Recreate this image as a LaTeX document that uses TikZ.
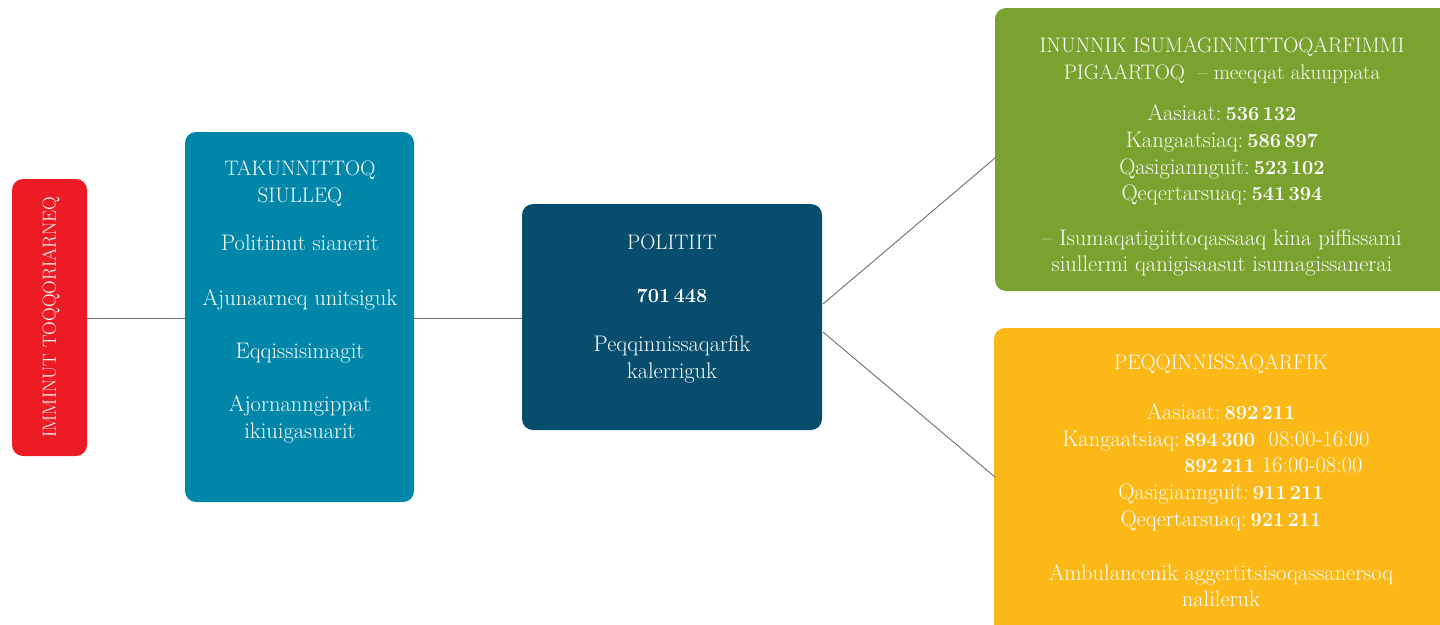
\documentclass[tikz,border=0pt]{standalone}
\usepackage{xcolor}
\definecolor{cred}{HTML}{ED1C24}
\definecolor{cteal}{HTML}{0086A9}
\definecolor{cdark}{HTML}{074D6E}
\definecolor{cgreen}{HTML}{7AA22F}
\definecolor{cyellow}{HTML}{FBB817}
\definecolor{cline}{HTML}{6E6E6E}
\newcommand{\num}[1]{{\fontsize{20}{24}\selectfont\bfseries #1}}
\newcommand{\csp}{\hspace{0.18em}}
\begin{document}
\begin{tikzpicture}[x=1pt,y=-1pt,
  box/.style={rounded corners=11pt},
  head/.style={text=white,font=\fontsize{21}{25}\selectfont,inner sep=0pt,anchor=base},
  body/.style={text=white,font=\fontsize{22.5}{26}\selectfont,inner sep=0pt,anchor=base},
  conn/.style={draw=cline,line width=0.9pt}]
\useasboundingbox (0,0) rectangle (1440,624);
\clip (0,0) rectangle (1440,624);
% boxes
\fill[cred,box] (12,179) rectangle (87,456);
\fill[cteal,box] (185,132) rectangle (414,502);
\fill[cdark,box] (522,204) rectangle (822,430);
\fill[cgreen,box] (995,8) rectangle (1460,291);
\fill[cyellow,box] (994,328) rectangle (1460,640);
% anchors for connectors
\coordinate (redE) at (87,318);
\coordinate (tealW) at (185,318);
\coordinate (tealE) at (414,318);
\coordinate (darkW) at (522,318);
\coordinate (darkE1) at (823,304);
\coordinate (darkE2) at (823,332);
\coordinate (greenW) at (995,158);
\coordinate (yellowW) at (995,477);
\draw[conn] (redE) -- (tealW);
\draw[conn] (tealE) -- (darkW);
\draw[conn] (darkE1) -- (greenW);
\draw[conn] (darkE2) -- (yellowW);
% red
\node[text=white,font=\fontsize{19}{22}\selectfont,inner sep=0pt,rotate=90] (r1) at (51,317) {IMMINUT TOQQORIARNEQ};
% teal
\node[head] (ta) at (300,175) {TAKUNNITTOQ};
\node[head] (tb) at (300,202) {SIULLEQ};
\node[body] (tc) at (300,250) {Politiinut sianerit};
\node[body] (td) at (300,305) {Ajunaarneq unitsiguk};
\node[body] (te) at (300,358) {Eqqissisimagit};
\node[body] (tf) at (300,411) {Ajornanngippat};
\node[body] (tg) at (300,438) {ikiuigasuarit};
% dark
\node[head] (da) at (672,249) {POLITIIT};
\node[body] (db) at (672,302) {\num{701\,448}};
\node[body] (dc) at (672,351) {Peqqinnissaqarfik};
\node[body] (dd) at (672,378) {kalerriguk};
% green
\node[head] (ga) at (1222,52) {INUNNIK ISUMAGINNITTOQARFIMMI};
\node[head] (gb) at (1222,79) {PIGAARTOQ \ -- meeqqat akuuppata};
\node[body] (gc) at (1222,120) {Aasiaat:\csp\num{536\,132}};
\node[body] (gd) at (1222,147) {Kangaatsiaq:\csp\num{586\,897}};
\node[body] (ge) at (1222,174) {Qasigiannguit:\csp\num{523\,102}};
\node[body] (gf) at (1222,200) {Qeqertarsuaq:\csp\num{541\,394}};
\node[body] (gg) at (1222,245) {-- Isumaqatigiittoqassaaq kina piffissami};
\node[body] (gh) at (1222,271) {siullermi qanigisaasut isumagissanerai};
% yellow
\node[head] (ya) at (1221,369) {PEQQINNISSAQARFIK};
\node[body] (yb) at (1221,419) {Aasiaat:\csp\num{892\,211}};
\node[body,anchor=base east] (yc1) at (1180,446) {Kangaatsiaq:};
\node[body,anchor=base west] (yc2) at (1184,446) {\num{894\,300} \ 08:00-16:00};
\node[body,anchor=base west] (yd) at (1184,472) {\num{892\,211} 16:00-08:00};
\node[body] (ye) at (1221,499) {Qasigiannguit:\csp\num{911\,211}};
\node[body] (yf) at (1221,526) {Qeqertarsuaq:\csp\num{921\,211}};
\node[body] (yg) at (1221,580) {Ambulancenik aggertitsisoqassanersoq};
\node[body] (yh) at (1221,606) {nalileruk};
\end{tikzpicture}
\end{document}
